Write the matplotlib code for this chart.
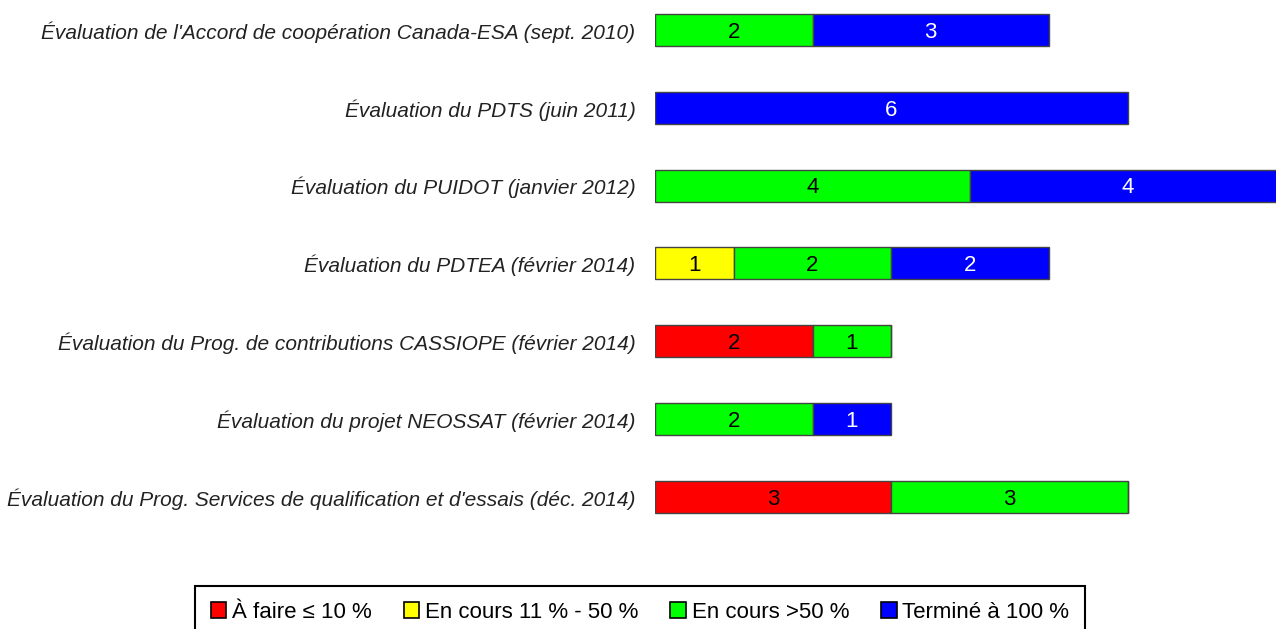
import matplotlib
matplotlib.use("Agg")
import matplotlib.pyplot as plt
import numpy as np

categories = [
    "Évaluation de l'Accord de coopération Canada-ESA (sept. 2010)",
    "Évaluation du PDTS (juin 2011)",
    "Évaluation du PUIDOT (janvier 2012)",
    "Évaluation du PDTEA (février 2014)",
    "Évaluation du Prog. de contributions CASSIOPE (février 2014)",
    "Évaluation du projet NEOSSAT (février 2014)",
    "Évaluation du Prog. Services de qualification et d'essais (déc. 2014)",
]
a_faire = [0, 0, 0, 0, 2, 0, 3]
en_cours_11_50 = [0, 0, 0, 1, 0, 0, 0]
en_cours_50 = [2, 0, 4, 2, 1, 2, 3]
termine = [3, 6, 4, 2, 0, 1, 0]

series = [
    ("À faire ≤ 10 %", a_faire, "#FF0000", "black"),
    ("En cours 11 % - 50 %", en_cours_11_50, "#FFFF00", "black"),
    ("En cours >50 %", en_cours_50, "#00FF00", "black"),
    ("Terminé à 100 %", termine, "#0000FF", "white"),
]

W, H = 1276, 629
fig = plt.figure(figsize=(W / 100, H / 100), dpi=100)
left_px, right_px = 655, 1276
unit_px = 78.75
row_px = 77.8
top_row_px = 30
ax = fig.add_axes([left_px / W, 1 - (top_row_px + 6.5 * row_px) / H,
                   (right_px - left_px) / W, 7 * row_px / H])
ax.set_xlim(0, (right_px - left_px) / unit_px)
ax.set_ylim(6.5, -0.5)

y = np.arange(len(categories))
left = np.zeros(len(categories))
handles = []
for name, vals, col, tcol in series:
    vals = np.array(vals, dtype=float)
    bars = ax.barh(y, vals, left=left, height=0.41, color=col,
                   edgecolor="#444444", linewidth=1.0, label=name)
    for yi, (l, v) in enumerate(zip(left, vals)):
        if v > 0:
            ax.text(l + v / 2, yi + 0.03, f"{int(v)}", ha="center", va="center",
                    color=tcol, fontsize=16, family=["Liberation Sans", "DejaVu Sans"])
    handles.append(bars)
    left += vals

ax.set_yticks(y)
ax.set_yticklabels(categories, fontsize=15, style="italic", color="#222222",
                   family=["Liberation Sans", "DejaVu Sans"])
ax.tick_params(axis="y", length=0, pad=14)
ax.set_xticks([])
for s in ax.spines.values():
    s.set_visible(False)

leg = fig.legend(handles=handles, labels=[s[0] for s in series],
                 loc="upper center", bbox_to_anchor=(640 / W, 1 - 586 / H),
                 borderaxespad=0,
                 ncol=4, frameon=True, fancybox=False, framealpha=1,
                 edgecolor="black", handlelength=0.7, handleheight=0.7,
                 handletextpad=0.25, columnspacing=1.45, borderpad=0.7,
                 prop={"family": ["Liberation Sans", "DejaVu Sans"], "size": 16})
leg.get_frame().set_linewidth(1.5)
for h in leg.legend_handles:
    h.set_edgecolor("black")
    h.set_linewidth(1.2)

fig.savefig("out.png", dpi=100)
